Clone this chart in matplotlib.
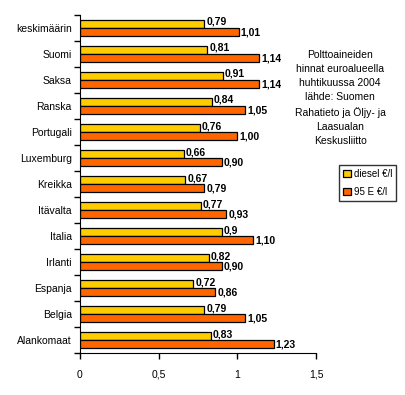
import matplotlib.pyplot as plt
import numpy as np

plt.rcParams['font.family'] = ['Liberation Sans', 'DejaVu Sans']

# maat ylhäältä alas
maat = ['keskimäärin', 'Suomi', 'Saksa', 'Ranska', 'Portugali', 'Luxemburg',
        'Kreikka', 'Itävalta', 'Italia', 'Irlanti', 'Espanja', 'Belgia', 'Alankomaat']
diesel = [0.79, 0.81, 0.91, 0.84, 0.76, 0.66, 0.67, 0.77, 0.90, 0.82, 0.72, 0.79, 0.83]
bensa95 = [1.01, 1.14, 1.14, 1.05, 1.00, 0.90, 0.79, 0.93, 1.10, 0.90, 0.86, 1.05, 1.23]
diesel_txt = ['0,79', '0,81', '0,91', '0,84', '0,76', '0,66', '0,67', '0,77', '0,9',
              '0,82', '0,72', '0,79', '0,83']
bensa_txt = ['1,01', '1,14', '1,14', '1,05', '1,00', '0,90', '0,79', '0,93', '1,10',
             '0,90', '0,86', '1,05', '1,23']

fig = plt.figure(figsize=(4.05, 3.95), dpi=100)
ax = fig.add_axes([0.1975, 0.106, 0.5827, 0.856])

y = np.arange(len(maat))[::-1]
h = 0.31
ax.barh(y + h / 2, diesel, height=h, color='#FFCC00', edgecolor='black', linewidth=0.9, label='diesel €/l')
ax.barh(y - h / 2, bensa95, height=h, color='#FF6600', edgecolor='black', linewidth=0.9, label='95 E €/l')

for i in range(len(maat)):
    ax.text(diesel[i] + 0.012, y[i] + h * 0.75, diesel_txt[i], fontsize=7.5, fontweight='bold', va='center')
    ax.text(bensa95[i] + 0.012, y[i] - h * 0.6, bensa_txt[i], fontsize=7.5, fontweight='bold', va='center')

ax.set_xlim(0, 1.5)
ax.set_ylim(-0.5, len(maat) - 0.5)
ax.set_xticks([0, 0.5, 1, 1.5])
ax.set_xticklabels(['0', '0,5', '1', '1,5'], fontsize=7.5)
ax.set_yticks(y)
ax.set_yticklabels(maat, fontsize=7.5)
ax.tick_params(axis='y', length=0, pad=6)
ax.set_yticks(np.arange(-0.5, len(maat)), minor=True)
ax.tick_params(axis='y', which='minor', length=4, width=1)
ax.tick_params(axis='x', length=4, width=1, pad=8)
ax.spines['top'].set_visible(False)
ax.spines['right'].set_visible(False)

fig.text(0.84, 0.752, 'Polttoaineiden\nhinnat euroalueella\nhuhtikuussa 2004\nlähde: Suomen\nRahatieto ja Öljy- ja\nLaasualan\nKeskusliitto',
         ha='center', va='center', fontsize=7.5, linespacing=1.5)

fig.legend(loc='upper left', bbox_to_anchor=(0.837, 0.582), fontsize=7, frameon=True,
           fancybox=False, edgecolor='black', handlelength=0.8, handleheight=0.8,
           handletextpad=0.3, borderpad=0.4, labelspacing=0.8, borderaxespad=0)

fig.savefig('out.png', dpi=100)
